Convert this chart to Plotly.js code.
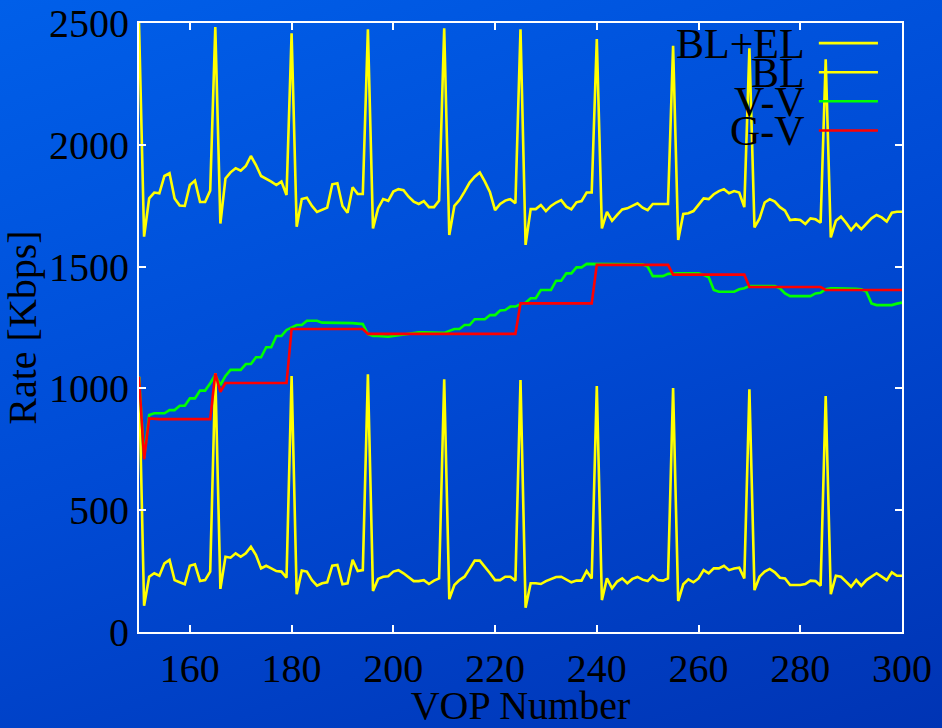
<!DOCTYPE html>
<html>
<head>
<meta charset="utf-8">
<script src="https://cdn.plot.ly/plotly-3.0.1.min.js"></script>
<style>
  html, body { margin: 0; padding: 0; }
  body {
    width: 942px; height: 728px; overflow: hidden;
    background: linear-gradient(160deg, #005fe9 0%, #004ad4 50%, #0034b4 100%);
  }
  #chart { width: 942px; height: 728px; }
</style>
</head>
<body>
<div id="chart"></div>
<script>
// VOP (frame) numbers
const vop = [150,151,152,153,154,155,156,157,158,159,160,161,162,163,164,165,166,167,168,169,
  170,171,172,173,174,175,176,177,178,179,180,181,182,183,184,185,186,187,188,189,
  190,191,192,193,194,195,196,197,198,199,200,201,202,203,204,205,206,207,208,209,
  210,211,212,213,214,215,216,217,218,219,220,221,222,223,224,225,226,227,228,229,
  230,231,232,233,234,235,236,237,238,239,240,241,242,243,244,245,246,247,248,249,
  250,251,252,253,254,255,256,257,258,259,260,261,262,263,264,265,266,267,268,269,
  270,271,272,273,274,275,276,277,278,279,280,281,282,283,284,285,286,287,288,289,
  290,291,292,293,294,295,296,297,298,299,300];

// Base layer + enhancement layer rate (Kbps)
const blEl = [2500,1623,1780,1804,1801,1872,1883,1780,1751,1749,1835,1853,1765,1765,1812,2483,1677,1862,1887,1904,
  1894,1913,1954,1917,1872,1862,1849,1835,1849,1794,2458,1664,1777,1783,1749,1724,1732,1742,1838,1842,
  1749,1721,1826,1798,1798,2474,1657,1739,1777,1770,1808,1818,1814,1787,1767,1757,1769,1744,1744,1771,
  2478,1630,1749,1773,1808,1845,1869,1886,1849,1805,1732,1757,1771,1777,1760,2474,1589,1736,1736,1753,
  1728,1749,1763,1773,1746,1735,1764,1769,1804,1804,2434,1657,1725,1688,1712,1735,1739,1749,1760,1742,
  1732,1757,1757,1757,1757,2406,1609,1716,1719,1728,1753,1780,1777,1797,1810,1818,1801,1810,1804,1744,
  2396,1661,1698,1763,1777,1767,1744,1730,1691,1694,1691,1675,1698,1694,1680,2351,1620,1688,1705,1680,
  1650,1675,1654,1677,1698,1712,1702,1685,1721,1725,1725];

// Base layer rate (Kbps)
const bl = [1048,108,227,241,231,282,296,213,204,196,272,278,209,213,248,1062,177,309,305,323,
  309,323,350,316,261,272,261,250,248,223,1051,155,252,248,213,190,200,204,272,275,
  196,200,296,250,254,1058,168,218,227,229,248,254,241,223,209,209,213,197,211,220,
  1037,135,193,213,227,259,293,293,268,241,213,213,227,227,211,1034,100,200,200,197,
  209,218,226,227,216,204,211,211,250,220,1010,131,220,179,207,220,200,218,226,215,
  209,231,213,211,220,1002,127,196,216,204,220,254,241,261,261,272,254,261,264,220,
  996,172,227,248,259,245,223,220,193,193,193,197,211,209,190,969,155,231,227,207,
  186,213,190,213,227,241,227,213,245,231,231];

// V-V smoothed rate (Kbps)
const vv = [1048,715,891,898,898,898,911,911,929,929,959,959,991,991,1021,1055,1014,1051,1076,1076,
  1076,1100,1100,1128,1128,1169,1169,1215,1215,1240,1251,1260,1260,1278,1278,1278,1270,1270,1270,1270,
  1270,1270,1268,1266,1264,1223,1215,1215,1212,1212,1215,1218,1222,1225,1228,1230,1230,1230,1228,1228,
  1228,1236,1244,1244,1260,1260,1284,1284,1284,1301,1301,1320,1322,1336,1336,1346,1352,1370,1370,1404,
  1404,1404,1442,1442,1472,1472,1497,1497,1511,1511,1509,1509,1510,1510,1511,1511,1511,1510,1510,1509,
  1500,1461,1461,1461,1470,1472,1472,1472,1472,1472,1472,1466,1456,1404,1397,1397,1397,1397,1407,1411,
  1420,1420,1420,1420,1420,1420,1411,1390,1379,1379,1379,1379,1379,1390,1393,1407,1411,1411,1411,1411,
  1411,1409,1407,1397,1349,1342,1342,1342,1342,1348,1352];

// G-V smoothed rate (Kbps)
const gv = [1048,709,877,874,874,874,874,874,874,874,874,874,874,874,874,1062,986,1022,1022,1022,
  1022,1022,1022,1022,1022,1022,1022,1022,1022,1022,1244,1244,1244,1244,1244,1244,1244,1244,1244,1244,
  1244,1244,1244,1244,1244,1224,1224,1224,1224,1224,1224,1224,1224,1224,1224,1224,1224,1224,1224,1224,
  1224,1224,1224,1224,1224,1224,1224,1224,1224,1224,1224,1224,1224,1224,1224,1349,1349,1349,1349,1349,
  1349,1349,1349,1349,1349,1349,1349,1349,1349,1349,1507,1507,1507,1507,1507,1507,1507,1507,1507,1507,
  1507,1507,1507,1507,1507,1467,1467,1467,1467,1467,1467,1467,1467,1467,1467,1467,1467,1467,1467,1467,
  1416,1416,1416,1416,1416,1416,1416,1416,1416,1416,1416,1416,1416,1416,1416,1404,1404,1404,1404,1404,
  1404,1404,1404,1404,1404,1404,1404,1404,1404,1404,1404];

const seriesNames = ['BL+EL', 'BL', 'V-V', 'G-V'];
const seriesColors = ['#ffff00', '#ffff00', '#00ff00', '#ff0000'];
const seriesData = [blEl, bl, vv, gv];

const xTicks = [160, 180, 200, 220, 240, 260, 280, 300];
const yTicks = [0, 500, 1000, 1500, 2000, 2500];

const serif = 'Liberation Serif, Times New Roman, serif';

const traces = seriesData.map((ys, i) => ({
  type: 'scatter',
  mode: 'lines',
  name: seriesNames[i],
  x: vop,
  y: ys,
  line: { color: seriesColors[i], width: 2.6 },
  showlegend: false
}));

// Key in the upper right: label on the left, line sample on the right
const keyTop = 0.9655, keyStep = 0.0478;
const annotations = seriesNames.map((n, i) => ({
  xref: 'paper', yref: 'paper',
  x: 0.8755, y: keyTop - i * keyStep,
  xanchor: 'right', yanchor: 'middle',
  text: n, showarrow: false,
  font: { family: serif, size: 42, color: '#000000' }
}));
const shapes = seriesColors.map((c, i) => ({
  type: 'line', xref: 'paper', yref: 'paper',
  x0: 0.891, x1: 0.9685,
  y0: 0.967 - i * keyStep, y1: 0.967 - i * keyStep,
  line: { color: c, width: 2.6 }
}));

const axisCommon = {
  showline: true, linecolor: '#ffffff', linewidth: 2, mirror: 'ticks',
  ticks: 'inside', ticklen: 7, tickwidth: 2, tickcolor: '#ffffff',
  showgrid: false, zeroline: false,
  tickfont: { family: serif, size: 40, color: '#000000' }
};

const layout = {
  width: 942, height: 728, autosize: false,
  margin: { l: 139, r: 40, t: 23, b: 96 },
  paper_bgcolor: 'rgba(0,0,0,0)',
  plot_bgcolor: 'rgba(0,0,0,0)',
  xaxis: Object.assign({}, axisCommon, {
    range: [150, 300], tickvals: xTicks,
    title: { text: 'VOP Number', font: { family: serif, size: 40, color: '#000000' }, standoff: 4 }
  }),
  yaxis: Object.assign({}, axisCommon, {
    range: [0, 2500], tickvals: yTicks,
    title: { text: 'Rate [Kbps]', font: { family: serif, size: 40, color: '#000000' }, standoff: 8 }
  }),
  annotations: annotations,
  shapes: shapes
};

Plotly.newPlot('chart', traces, layout, { displayModeBar: false, staticPlot: true });
</script>
</body>
</html>
